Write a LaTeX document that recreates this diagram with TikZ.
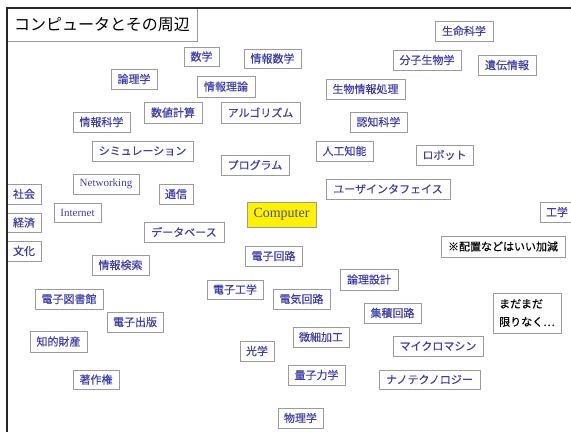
\documentclass[tikz,border=0pt]{standalone}
\usepackage{fontspec}
\newfontfamily\jp{Noto Sans CJK JP}
\newfontfamily\jpb{Noto Sans CJK JP}[FakeBold=0.35]
\newfontfamily\rom{Liberation Serif}
\definecolor{lblue}{RGB}{62,62,168}
\definecolor{bgray}{RGB}{155,155,155}
\begin{document}
\begin{tikzpicture}[x=1pt,y=-1pt,
  box/.style={draw=bgray, line width=1pt, fill=white, inner sep=0pt, text=lblue,
    font=\jpb\fontsize{11}{13}\selectfont, minimum height=20pt},
  romb/.style={box, font=\rom\fontsize{11}{13}\selectfont},
  note/.style={box, text=black},
]
\useasboundingbox (0,0) rectangle (571,432);
\fill[white] (0,0) rectangle (571,432);
% title
\node[draw=bgray, line width=1pt, inner sep=0pt, minimum width=190pt, minimum height=33pt,
  font=\jp\fontsize{16}{18}\selectfont] (title) at (102,24.5) {コンピュータとその周辺};
% boxes
\node[box, minimum width=35pt, minimum height=19pt] (sugaku) at (201.5,56.5) {数学};
\node[box, minimum width=57pt, minimum height=19pt] (johosugaku) at (272.5,58.5) {情報数学};
\node[box, minimum width=46pt] (ronrigaku) at (134,79) {論理学};
\node[box, minimum width=58pt, minimum height=21pt] (johoriron) at (226,86.5) {情報理論};
\node[box, minimum width=58pt, minimum height=21pt] (suchi) at (173,112.5) {数値計算};
\node[box, minimum width=79pt, minimum height=21pt] (algo) at (260.5,112.5) {アルゴリズム};
\node[box, minimum width=57pt] (johokagaku) at (101.5,122) {情報科学};
\node[box, minimum width=101pt] (sim) at (142.5,151) {シミュレーション};
\node[box, minimum width=58pt] (seimei) at (464,31) {生命科学};
\node[box, minimum width=68pt] (bunshi) at (427,60) {分子生物学};
\node[box, minimum width=58pt] (iden) at (507,65) {遺伝情報};
\node[box, minimum width=79pt] (seibutsu) at (365.5,89) {生物情報処理};
\node[box, minimum width=57pt] (ninchi) at (378.5,122) {認知科学};
\node[box, minimum width=57pt] (jinko) at (344.5,151) {人工知能};
\node[box, minimum width=57pt] (robot) at (444.5,155) {ロボット};
\node[box, minimum width=68pt] (program) at (255,165) {プログラム};
\node[romb, minimum width=66pt] (network) at (106,184) {Networking};
\node[box, minimum width=34pt] (tsushin) at (176,194) {通信};
\node[box, minimum width=34pt] (shakai) at (24,194) {社会};
\node[romb, minimum width=47pt, minimum height=19pt] (internet) at (77.5,212.5) {Internet};
\node[box, minimum width=34pt, minimum height=19pt] (keizai) at (24,222.5) {経済};
\node[box, fill=yellow, minimum width=69pt, minimum height=25pt, text={rgb,255:red,80;green,80;blue,140},
  font=\rom\fontsize{14}{16}\selectfont] (computer) at (281.5,214.5) {Computer};
\node[box, minimum width=80pt] (db) at (184,232) {データベース};
\node[box, minimum width=34pt] (bunka) at (24,251) {文化};
\node[box, minimum width=57pt] (denshikairo) at (273.5,256) {電子回路};
\node[box, minimum width=57pt] (kensaku) at (120.5,265) {情報検索};
\node[box, minimum width=124pt] (ui) at (388,189) {ユーザインタフェイス};
\node[box, minimum width=34pt] (kogaku) at (557,212) {工学};
\node[note, minimum width=124pt, minimum height=21pt] (haichi) at (503,246.5) {※配置などはいい加減};
\node[box, minimum width=58pt, minimum height=21pt] (ronrisekkei) at (369,279.5) {論理設計};
\node[box, minimum width=68pt] (toshokan) at (69,299) {電子図書館};
\node[box, minimum width=56pt, minimum height=19pt] (denshikogaku) at (235,289.5) {電子工学};
\node[box, minimum width=57pt] (denki) at (301.5,299) {電気回路};
\node[box, minimum width=56pt] (shuppan) at (135,322) {電子出版};
\node[box, minimum width=57pt, minimum height=21pt] (chiteki) at (58.5,341.5) {知的財産};
\node[box, minimum width=34pt] (kogaku2) at (257,351) {光学};
\node[box, minimum width=46pt, minimum height=19pt] (chosaku) at (96,379.5) {著作権};
\node[box, minimum width=45pt] (butsuri) at (300.5,418) {物理学};
\node[box, minimum width=57pt] (shuseki) at (392.5,313) {集積回路};
\node[note, minimum width=68pt, minimum height=40pt, align=left,
  font=\jpb\fontsize{11}{18}\selectfont] (madamada) at (527,313) {まだまだ\\限りなく…};
\node[box, minimum width=56pt] (bisai) at (321,337) {微細加工};
\node[box, minimum width=90pt] (micro) at (438,346) {マイクロマシン};
\node[box, minimum width=57pt] (ryoshi) at (316.5,375) {量子力学};
\node[box, minimum width=101pt, minimum height=19pt] (nano) at (429.5,379.5) {ナノテクノロジー};
% frame
\draw[line width=1.4pt, black!85] (7,432) -- (7,8) -- (571,8);
\end{tikzpicture}
\end{document}
